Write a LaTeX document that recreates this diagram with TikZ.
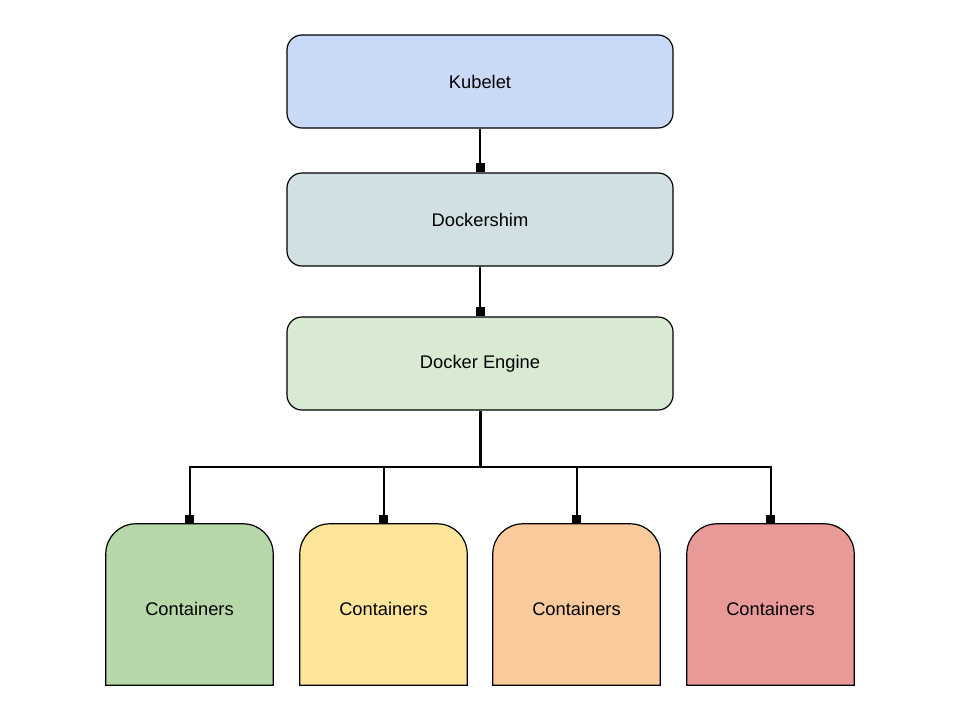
\documentclass[tikz,border=0pt]{standalone}
\usepackage{fontspec}
\setmainfont{Liberation Sans}
\usetikzlibrary{arrows.meta,backgrounds}
\definecolor{kubc}{HTML}{C9DAF8}
\definecolor{shimc}{HTML}{D0E0E3}
\definecolor{engc}{HTML}{D9EAD3}
\definecolor{cgreen}{HTML}{B6D7A8}
\definecolor{cyellow}{HTML}{FFE599}
\definecolor{corange}{HTML}{F9CB9C}
\definecolor{cred}{HTML}{EA9999}
\tikzset{
  mainbox/.style={draw=black, line width=1.2pt, rounded corners=15pt, minimum width=386pt, minimum height=93pt, inner sep=0pt, font=\fontsize{18.3}{22}\selectfont},
  cbox/.style={minimum width=167pt, minimum height=161pt, inner sep=0pt, text height=21pt, text depth=0pt, font=\fontsize{18.3}{22}\selectfont},
  cshape/.style={draw=black, line width=1.2pt},
  conn/.style={draw=black, line width=2pt, -{Square[length=9pt,width=9pt]}},
}
\begin{document}
\begin{tikzpicture}[x=1pt,y=-1pt]
\useasboundingbox (0,0) rectangle (960,720);
\node[mainbox, fill=kubc] (kub) at (480,81.5) {Kubelet};
\node[mainbox, fill=shimc] (shim) at (480,219.5) {Dockershim};
\node[mainbox, fill=engc] (eng) at (480,363.5) {Docker Engine};
\node[cbox] (c1) at (189.5,604.5) {Containers};
\node[cbox] (c2) at (383.5,604.5) {Containers};
\node[cbox] (c3) at (576.5,604.5) {Containers};
\node[cbox] (c4) at (770.5,604.5) {Containers};
\begin{scope}[on background layer]
\foreach \n/\c in {c1/cgreen,c2/cyellow,c3/corange,c4/cred}{
  \draw[cshape, fill=\c] (\n.south west) [rounded corners=30pt] -- (\n.north west) -- (\n.north east) [sharp corners] -- (\n.south east) -- cycle;
}
\end{scope}
\draw[conn] (kub.south) -- (shim.north);
\draw[conn] (shim.south) -- (eng.north);
\draw[line width=3pt] (eng.south) -- ++(0,56) coordinate (bus);
\foreach \n in {c1,c2,c3,c4}{
  \draw[conn] (bus) -| (\n.north);
}
\end{tikzpicture}
\end{document}
